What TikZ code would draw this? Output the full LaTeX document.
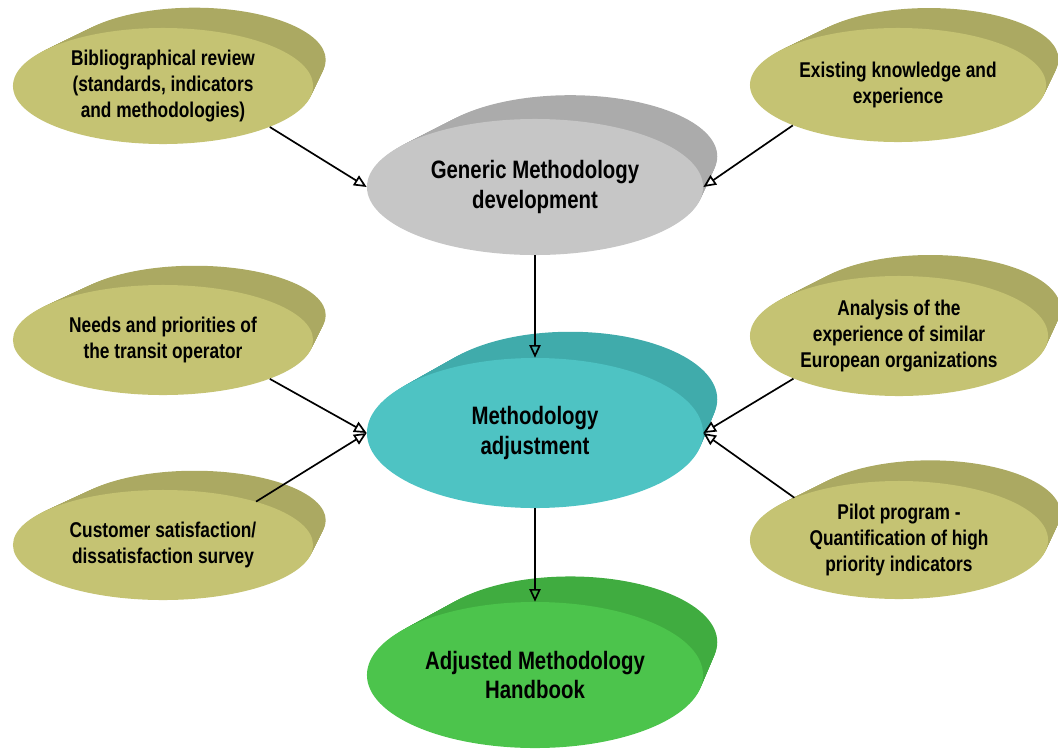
\documentclass[tikz,border=0pt]{standalone}
\usepackage{fontspec}
\setmainfont{Liberation Sans}[FakeStretch=0.81]
\usetikzlibrary{shapes.geometric,arrows.meta}
\definecolor{olivetop}{HTML}{C5C373}
\definecolor{oliveside}{HTML}{ABA962}
\definecolor{greytop}{HTML}{C6C6C6}
\definecolor{greyside}{HTML}{ABABAB}
\definecolor{cyantop}{HTML}{4EC3C3}
\definecolor{cyanside}{HTML}{40ABAB}
\definecolor{greentop}{HTML}{4CC44C}
\definecolor{greenside}{HTML}{40AC40}
\begin{document}
\begin{tikzpicture}[x=0.025cm, y=-0.025cm,
        disc/.style={ellipse, inner sep=0pt, align=center,
            font=\bfseries\fontsize{15.2}{18.4}\selectfont},
        bigdisc/.style={disc, font=\bfseries\fontsize{17.9}{21.3}\selectfont},
        link/.style={line width=1.2pt, -{Triangle[open, length=9pt, width=8pt]}}]
        \useasboundingbox (0,0) rectangle (1058,751);

        % side walls of the discs, narrowing towards the back
        \foreach \cx/\cy/\rx/\ry/\col in {163/86/150/58/oliveside, 898/85/148/57/oliveside,
                163/340/150/55/oliveside, 163/545/150/55/oliveside,
                899/336/149/60/oliveside, 899/540/149/59/oliveside,
                535/187/168/68/greyside, 535/433/168/75/cyanside, 535/675/168/73/greenside}
            \foreach \k in {1,...,20}
                \fill[\col] (\cx+0.0105*\rx*\k, \cy-0.0225*\ry*\k)
                    ellipse [x radius=\rx*(1-0.00625*\k), y radius=\ry*(1-0.005*\k)];

        \node[disc, fill=olivetop, minimum width=7.5cm, minimum height=2.9cm] (bib) at (163,86)
            {Bibliographical review\\(standards, indicators\\and methodologies)};
        \node[disc, fill=olivetop, minimum width=7.4cm, minimum height=2.85cm] (know) at (898,85)
            {Existing knowledge and\\experience};
        \node[disc, fill=olivetop, minimum width=7.5cm, minimum height=2.75cm] (needs) at (163,340)
            {Needs and priorities of\\the transit operator};
        \node[disc, fill=olivetop, minimum width=7.5cm, minimum height=2.75cm] (survey) at (163,545)
            {Customer satisfaction/\\dissatisfaction survey};
        \node[disc, fill=olivetop, minimum width=7.45cm, minimum height=3cm] (europe) at (899,336)
            {Analysis of the\\experience of similar\\European organizations};
        \node[disc, fill=olivetop, minimum width=7.45cm, minimum height=2.95cm] (pilot) at (899,540)
            {Pilot program -\\Quantification of high\\priority indicators};

        \node[bigdisc, fill=greytop, minimum width=8.4cm, minimum height=3.4cm] (generic) at (535,187)
            {Generic Methodology\\development};
        \node[bigdisc, fill=cyantop, minimum width=8.4cm, minimum height=3.75cm] (adjust) at (535,433)
            {Methodology\\adjustment};
        \node[bigdisc, fill=greentop, minimum width=8.4cm, minimum height=3.65cm] (handbook) at (535,675)
            {Adjusted Methodology\\Handbook};

        \draw[link] (bib.-21) -- (generic.west);
        \draw[link] (know.-159) -- (generic.east);
        \draw[link] (generic.south) -- (adjust.north);
        \draw[link] (needs.-20) -- (adjust.west);
        \draw[link] (survey.25) -- (adjust.west);
        \draw[link] (europe.-158) -- (adjust.east);
        \draw[link] (pilot.158) -- (adjust.east);
        \draw[link] (adjust.south) -- (handbook.north);
\end{tikzpicture}
\end{document}
